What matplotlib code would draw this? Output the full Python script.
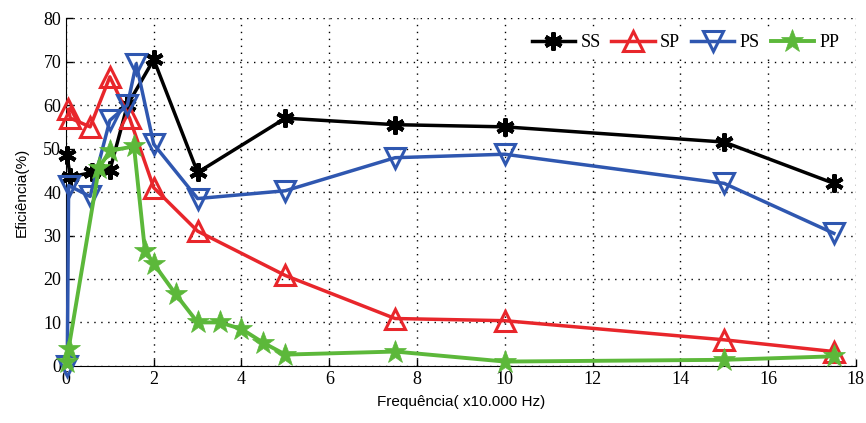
import matplotlib
matplotlib.use("Agg")
import matplotlib.pyplot as plt

# dados (frequência em x10.000 Hz, eficiência em %)
ss_x = [0.02, 0.1, 0.6, 1.0, 1.4, 2.0, 3.0, 5.0, 7.5, 10.0, 15.0, 17.5]
ss_y = [48.5, 43.5, 44.5, 45.0, 60.0, 70.5, 44.5, 57.0, 55.5, 55.0, 51.5, 42.0]

sp_x = [0.05, 0.1, 0.55, 1.0, 1.45, 2.0, 3.0, 5.0, 7.5, 10.0, 15.0, 17.5]
sp_y = [59.0, 57.0, 55.0, 66.5, 57.0, 41.0, 31.0, 20.8, 10.9, 10.4, 6.0, 3.3]

ps_x = [0.03, 0.06, 0.55, 1.0, 1.4, 1.6, 2.0, 3.0, 5.0, 7.5, 10.0, 15.0, 17.5]
ps_y = [0.0, 41.5, 39.0, 56.5, 60.0, 69.5, 51.0, 38.5, 40.3, 47.9, 48.7, 42.0, 30.5]

pp_x = [0.03, 0.06, 0.75, 1.0, 1.55, 1.8, 2.0, 2.5, 3.0, 3.5, 4.0, 4.5, 5.0, 7.5, 10.0, 15.0, 17.5]
pp_y = [1.0, 4.0, 45.5, 49.5, 50.5, 26.5, 23.5, 16.5, 10.0, 10.0, 8.5, 5.3, 2.6, 3.3, 1.0, 1.4, 2.2]

x_ticks = list(range(0, 19, 2))
y_ticks = list(range(0, 81, 10))

serif = ["Liberation Serif", "DejaVu Serif"]
sans = ["Liberation Sans", "DejaVu Sans"]

fig = plt.figure(figsize=(8.66, 4.23), dpi=100)
ax = fig.add_axes([0.0762, 0.135, 0.912, 0.822])

asterisk = (6, 2, 0)
ax.plot(ss_x, ss_y, color="black", lw=2.5, marker=asterisk, ms=13, mew=3,
        label="SS", clip_on=False, zorder=3)
ax.plot(sp_x, sp_y, color="#e8262b", lw=2.5, marker="^", ms=14, mew=2.2,
        mfc="none", label="SP", clip_on=False, zorder=3)
ax.plot(ps_x, ps_y, color="#2f57b0", lw=2.5, marker="v", ms=14, mew=2.2,
        mfc="none", label="PS", clip_on=False, zorder=3)
ax.plot(pp_x, pp_y, color="#5cb83a", lw=2.8, marker="*", ms=17, mew=0.5,
        label="PP", clip_on=False, zorder=3)

ax.set_xlim(0, 18)
ax.set_ylim(0, 80)
ax.set_xticks(x_ticks)
ax.set_yticks(y_ticks)
ax.grid(True, linestyle=(0, (1, 4)), color="black", lw=1.0)
ax.spines["top"].set_visible(False)
ax.spines["right"].set_visible(False)
ax.tick_params(direction="in", length=5, width=1)
for lab in ax.get_xticklabels() + ax.get_yticklabels():
    lab.set_fontfamily(serif)
    lab.set_fontsize(13)

ax.set_xlabel("Frequência( x10.000 Hz)", family=sans, fontsize=11, labelpad=5)
ax.set_ylabel("Eficiência(%)", family=sans, fontsize=11, labelpad=10)

leg = ax.legend(loc="upper right", ncol=4, frameon=True, fancybox=False,
                prop={"family": serif, "size": 13}, handlelength=2.4,
                columnspacing=0.6, handletextpad=0.3, borderaxespad=0.5)
leg.get_frame().set_edgecolor("none")
leg.get_frame().set_alpha(1.0)

fig.savefig("out.png", dpi=100)
